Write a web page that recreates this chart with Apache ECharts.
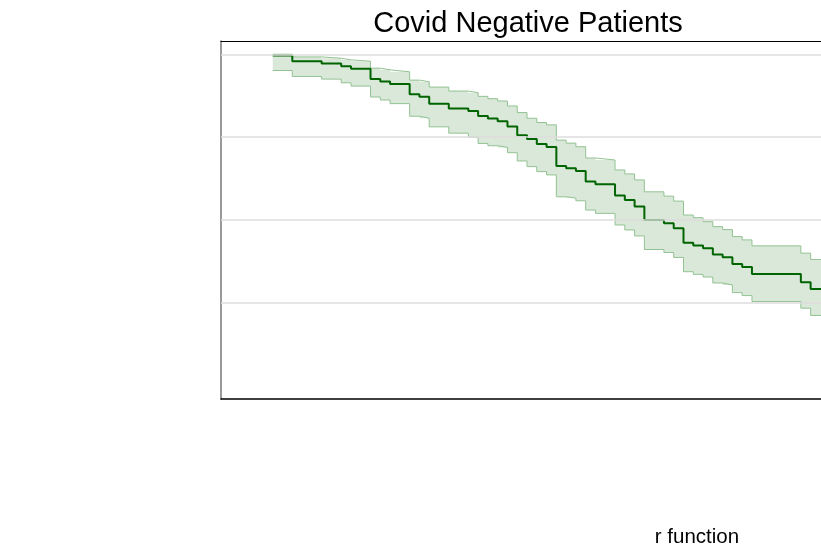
<!DOCTYPE html>
<html>
<head>
<meta charset="utf-8">
<script src="https://cdn.jsdelivr.net/npm/echarts@6/dist/echarts.min.js"></script>
<style>
html,body{margin:0;padding:0;background:#fff;}
#chart{width:821px;height:546px;}
</style>
</head>
<body>
<div id="chart"></div>
<script>
// Time points (days) where the Kaplan-Meier estimate changes
const times    = [0, 2, 5, 7, 8, 10, 11, 12, 14, 15, 16, 18, 20, 21, 22, 23, 24, 25, 26, 27, 28, 29, 30, 31, 32, 33, 35, 36, 37, 38, 40, 41, 42, 43, 44, 45, 46, 47, 48, 49, 54, 55];
// Survival estimate
const survival = [0.996, 0.979, 0.972, 0.964, 0.956, 0.925, 0.918, 0.910, 0.879, 0.872, 0.851, 0.836, 0.829, 0.814, 0.806, 0.798, 0.782, 0.756, 0.744, 0.729, 0.720, 0.663, 0.656, 0.648, 0.616, 0.608, 0.574, 0.560, 0.541, 0.500, 0.490, 0.475, 0.431, 0.423, 0.415, 0.396, 0.388, 0.367, 0.358, 0.337, 0.312, 0.292];
// Upper confidence limit
const upper    = [1.000, 0.992, 0.988, 0.983, 0.979, 0.958, 0.953, 0.947, 0.922, 0.917, 0.901, 0.889, 0.884, 0.873, 0.866, 0.859, 0.844, 0.824, 0.807, 0.794, 0.787, 0.741, 0.732, 0.721, 0.687, 0.681, 0.651, 0.639, 0.621, 0.585, 0.572, 0.557, 0.515, 0.507, 0.495, 0.480, 0.471, 0.450, 0.440, 0.422, 0.400, 0.381];
// Lower confidence limit
const lower    = [0.951, 0.933, 0.925, 0.914, 0.904, 0.871, 0.862, 0.851, 0.813, 0.807, 0.781, 0.762, 0.750, 0.731, 0.724, 0.719, 0.703, 0.678, 0.661, 0.646, 0.636, 0.570, 0.566, 0.558, 0.530, 0.520, 0.485, 0.470, 0.452, 0.411, 0.402, 0.387, 0.344, 0.336, 0.328, 0.310, 0.304, 0.281, 0.272, 0.254, 0.234, 0.212];
const gridValues = [0.25, 0.5, 0.75, 1.0];
const titleText = 'Covid Negative Patients';
const xLabelText = 'r function';

const xMin = -5.29, xMax = 56.06;
const yMin = -0.04, yMax = 1.04;

function pairs(vals) {
  const d = times.map((t, i) => [t, vals[i]]);
  d.push([xMax, vals[vals.length - 1]]);
  return d;
}
const lowerData = pairs(lower);
const upperData = pairs(upper);
const survData = pairs(survival);

// one item: the whole band, drawn as a single step polygon through the axes
function renderBand(params, api) {
  const pts = [];
  const n = times.length;
  for (let i = 0; i < n; i++) {
    const t0 = times[i], t1 = i + 1 < n ? times[i + 1] : xMax;
    pts.push(api.coord([t0, upper[i]]));
    pts.push(api.coord([t1, upper[i]]));
  }
  for (let i = n - 1; i >= 0; i--) {
    const t0 = times[i], t1 = i + 1 < n ? times[i + 1] : xMax;
    pts.push(api.coord([t1, lower[i]]));
    pts.push(api.coord([t0, lower[i]]));
  }
  return {type: 'polygon', shape: {points: pts}, style: {fill: '#d9e8d9', stroke: null}};
}

const chart = echarts.init(document.getElementById('chart'), null, {renderer: 'canvas'});
chart.setOption({
  animation: false,
  backgroundColor: '#ffffff',
  title: [
    {text: titleText, left: 523, top: 4, textAlign: 'center',
     textStyle: {fontFamily: 'Liberation Sans, Arial, sans-serif', fontSize: 29, fontWeight: 'normal', color: '#000'}},
    {text: xLabelText, left: 692, top: 522, textAlign: 'center',
     textStyle: {fontFamily: 'Liberation Sans, Arial, sans-serif', fontSize: 20.5, fontWeight: 'normal', color: '#000'}}
  ],
  grid: {left: 221, right: 0, top: 41, bottom: 147, containLabel: false},
  xAxis: [
    {type: 'value', min: xMin, max: xMax, position: 'bottom',
     axisLine: {show: true, onZero: false, lineStyle: {color: '#000', width: 1.5}},
     axisTick: {show: false}, axisLabel: {show: false}, splitLine: {show: false}},
    {type: 'value', min: xMin, max: xMax, position: 'top',
     axisLine: {show: true, onZero: false, lineStyle: {color: '#000', width: 1}},
     axisTick: {show: false}, axisLabel: {show: false}, splitLine: {show: false}}
  ],
  yAxis: {type: 'value', min: yMin, max: yMax,
    axisLine: {show: true, onZero: false, lineStyle: {color: '#777', width: 1.5}},
    axisTick: {show: false}, axisLabel: {show: false}, splitLine: {show: false}},
  series: [
    {type: 'line', data: [], z: 1, silent: true,
     markLine: {silent: true, symbol: 'none', label: {show: false},
       lineStyle: {color: '#dddddd', width: 1.5, type: 'solid'},
       data: gridValues.map(v => ({yAxis: v}))}},
    {type: 'custom', name: 'band', z: 2, silent: true, clip: true,
     data: [[0, 0]], renderItem: renderBand},
    {type: 'line', name: 'lower', data: lowerData, step: 'end', z: 3,
     showSymbol: false, symbol: 'none',
     lineStyle: {color: '#92c292', width: 1}},
    {type: 'line', name: 'upper', data: upperData, step: 'end', z: 3,
     showSymbol: false, symbol: 'none',
     lineStyle: {color: '#92c292', width: 1}},
    {type: 'line', name: 'survival', data: survData, step: 'end', z: 4,
     showSymbol: false, symbol: 'none',
     lineStyle: {color: '#006400', width: 2}}
  ]
});
</script>
</body>
</html>
